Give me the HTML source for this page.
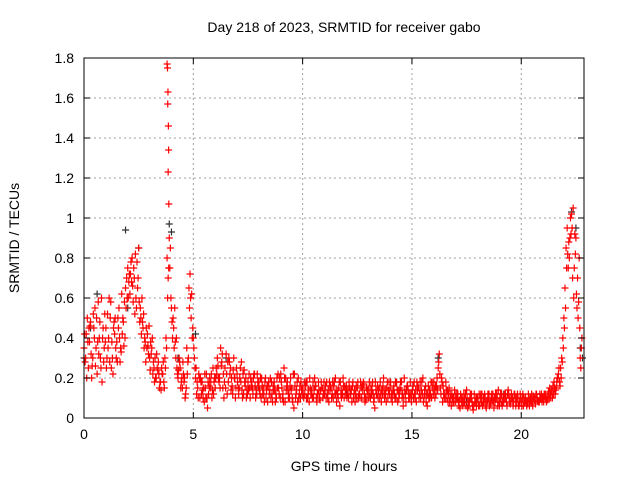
<!DOCTYPE html>
<html><head><meta charset="utf-8"><style>
body{margin:0;background:#fff;}
svg{display:block;font-family:"Liberation Sans",sans-serif;}
</style></head><body>
<svg id="chart" width="640" height="480">
<rect width="640" height="480" fill="#fff"/>
<text x="344" y="32" font-size="14" text-anchor="middle">Day 218 of 2023, SRMTID for receiver gabo</text>
<text x="344" y="471" font-size="14" text-anchor="middle">GPS time / hours</text>
<text transform="translate(19,238) rotate(-90)" font-size="14" text-anchor="middle">SRMTID / TECUs</text>
<g id="grid"></g><g id="marks"></g><g id="axes"></g>
</svg>
<script>
const xTicks=[0,5,10,15,20];
const yTicks=[0,0.2,0.4,0.6,0.8,1,1.2,1.4,1.6,1.8];
const yTickLabels=["0","0.2","0.4","0.6","0.8","1","1.2","1.4","1.6","1.8"];
const redA=[0.35,0.42,0.25,0.48,0.30,0.55,0.22,0.40,0.60,0.28,
0.45,0.35,0.50,0.30,0.42,0.38,0.55,0.33,0.48,0.65,
0.75,0.62,0.80,0.70,0.55,0.85,0.50,0.45,0.38,0.42,
0.30,0.35,0.25,0.20,0.28,0.18,0.22,0.30,0.80,0.90,
0.55,0.45,0.30,0.20,0.25,0.15,0.20,0.35,0.65,0.50,
0.40,0.20,0.15,0.10,0.18,0.08,0.22,0.12,0.18,0.25,
0.15,0.30,0.20,0.28,0.10,0.32,0.18,0.25,0.12,0.20,
0.22,0.15,0.28,0.12,0.20,0.18,0.10,0.15,0.22,0.12,
0.18,0.10,0.15,0.20,0.08,0.14,0.12,0.18,0.10,0.15,
0.22,0.12,0.08,0.18,0.10,0.15,0.05,0.12,0.20,0.10,
0.15,0.12,0.18,0.08,0.14,0.10,0.16,0.12,0.09,0.15,
0.12,0.18,0.08,0.15,0.10,0.20,0.12,0.06,0.14,0.10,
0.16,0.10,0.12,0.18,0.08,0.15,0.12,0.10,0.17,0.09,
0.14,0.10,0.18,0.05,0.12,0.15,0.08,0.20,0.12,0.10,
0.15,0.08,0.12,0.18,0.10,0.14,0.06,0.12,0.16,0.10,
0.12,0.18,0.08,0.15,0.10,0.20,0.12,0.06,0.14,0.10,
0.18,0.12,0.25,0.15,0.08,0.12,0.10,0.15,0.06,0.10,
0.08,0.12,0.05,0.10,0.08,0.14,0.06,0.10,0.04,0.08,
0.10,0.06,0.12,0.08,0.05,0.10,0.07,0.12,0.08,0.10,
0.06,0.12,0.08,0.10,0.14,0.07,0.10,0.12,0.08,0.06,
0.08,0.06,0.10,0.07,0.09,0.08,0.10,0.12,0.08,0.10,
0.10,0.12,0.09,0.15,0.13,0.18,0.15,0.22,0.25,0.40,
0.65,0.95,0.80,1.02,0.60,0.90,0.50,0.30];
const redB=[0.28,0.50,0.38,0.20,0.45,0.35,0.58,0.30,0.40,0.52,
0.30,0.60,0.25,0.45,0.35,0.50,0.28,0.42,0.58,0.70,
0.68,0.78,0.58,0.82,0.65,0.48,0.60,0.35,0.45,0.32,
0.38,0.22,0.30,0.25,0.15,0.25,0.18,0.40,0.70,0.85,
0.40,0.55,0.25,0.30,0.18,0.22,0.12,0.28,0.72,0.40,
0.30,0.12,0.22,0.18,0.10,0.15,0.05,0.20,0.10,0.18,
0.25,0.20,0.35,0.15,0.25,0.12,0.28,0.20,0.30,0.15,
0.15,0.25,0.10,0.18,0.14,0.22,0.16,0.20,0.10,0.18,
0.12,0.16,0.08,0.14,0.18,0.10,0.16,0.08,0.15,0.20,
0.15,0.25,0.14,0.10,0.20,0.08,0.16,0.18,0.12,0.14,
0.10,0.18,0.12,0.15,0.10,0.20,0.08,0.14,0.18,0.12,
0.16,0.10,0.14,0.12,0.18,0.08,0.15,0.12,0.20,0.14,
0.12,0.15,0.08,0.12,0.16,0.10,0.18,0.14,0.08,0.12,
0.18,0.12,0.08,0.14,0.10,0.18,0.12,0.10,0.15,0.18,
0.10,0.14,0.18,0.08,0.15,0.10,0.20,0.14,0.10,0.12,
0.16,0.10,0.14,0.12,0.18,0.10,0.08,0.16,0.12,0.15,
0.10,0.20,0.32,0.20,0.12,0.18,0.08,0.12,0.10,0.14,
0.12,0.06,0.10,0.08,0.12,0.05,0.10,0.08,0.12,0.06,
0.06,0.12,0.08,0.10,0.09,0.06,0.12,0.05,0.10,0.14,
0.12,0.08,0.10,0.06,0.10,0.12,0.08,0.06,0.10,0.12,
0.10,0.08,0.06,0.10,0.08,0.11,0.07,0.09,0.12,0.08,
0.12,0.08,0.13,0.10,0.16,0.12,0.20,0.18,0.30,0.50,
0.85,0.75,1.00,0.70,0.92,0.55,0.80,0.35];
const redC=[0.42,0.20,0.45,0.32,0.52,0.26,0.38,0.48,0.18,0.35,
0.25,0.40,0.58,0.22,0.50,0.28,0.40,0.62,0.36,0.55,
0.60,0.72,0.66,0.52,0.78,0.58,0.42,0.52,0.28,0.36,
0.24,0.40,0.18,0.32,0.22,0.14,0.28,0.25,0.60,0.75,
0.48,0.35,0.40,0.24,0.15,0.28,0.10,0.22,0.55,0.62,
0.35,0.25,0.10,0.20,0.14,0.22,0.10,0.16,0.22,0.12,
0.20,0.26,0.15,0.32,0.18,0.22,0.30,0.14,0.24,0.10,
0.18,0.20,0.14,0.24,0.10,0.14,0.20,0.12,0.16,0.22,
0.14,0.20,0.12,0.10,0.16,0.20,0.08,0.14,0.20,0.12,
0.18,0.08,0.20,0.14,0.16,0.10,0.22,0.14,0.10,0.18,
0.12,0.16,0.10,0.20,0.12,0.14,0.10,0.18,0.14,0.10,
0.14,0.12,0.18,0.10,0.16,0.12,0.10,0.18,0.12,0.16,
0.10,0.18,0.14,0.10,0.12,0.18,0.10,0.16,0.12,0.15,
0.10,0.16,0.12,0.18,0.16,0.10,0.14,0.12,0.08,0.14,
0.18,0.12,0.10,0.14,0.12,0.18,0.10,0.08,0.14,0.18,
0.14,0.12,0.18,0.10,0.14,0.08,0.16,0.12,0.10,0.18,
0.14,0.16,0.28,0.12,0.16,0.10,0.14,0.08,0.12,0.08,
0.10,0.08,0.12,0.06,0.10,0.10,0.08,0.12,0.06,0.10,
0.08,0.10,0.06,0.12,0.08,0.12,0.10,0.08,0.12,0.06,
0.10,0.06,0.12,0.08,0.12,0.10,0.06,0.10,0.12,0.08,
0.06,0.10,0.08,0.12,0.10,0.06,0.09,0.10,0.08,0.12,
0.08,0.10,0.12,0.12,0.10,0.15,0.18,0.25,0.20,0.35,
0.55,0.82,0.90,0.95,0.75,0.62,0.58,0.25];
const redD=[0.30,0.38,0.46,0.26,0.40,0.50,0.32,0.25,0.45,0.38,
0.52,0.28,0.38,0.48,0.30,0.45,0.35,0.50,0.40,0.60,
0.72,0.68,0.75,0.60,0.70,0.55,0.48,0.40,0.35,0.46,
0.32,0.28,0.20,0.24,0.18,0.22,0.15,0.35,0.75,0.60,
0.50,0.38,0.22,0.28,0.20,0.18,0.15,0.30,0.60,0.45,
0.25,0.18,0.20,0.12,0.15,0.10,0.18,0.15,0.14,0.20,
0.22,0.18,0.26,0.22,0.15,0.28,0.22,0.16,0.20,0.25,
0.12,0.18,0.22,0.16,0.12,0.15,0.18,0.22,0.14,0.16,
0.20,0.12,0.18,0.16,0.12,0.18,0.14,0.12,0.22,0.10,
0.10,0.20,0.16,0.12,0.14,0.22,0.10,0.08,0.16,0.12,
0.18,0.10,0.14,0.12,0.18,0.16,0.12,0.10,0.15,0.18,
0.10,0.14,0.16,0.18,0.12,0.14,0.18,0.10,0.16,0.12,
0.14,0.12,0.16,0.14,0.10,0.12,0.15,0.18,0.10,0.14,
0.12,0.14,0.10,0.12,0.14,0.12,0.16,0.14,0.18,0.12,
0.12,0.16,0.10,0.14,0.18,0.12,0.14,0.16,0.12,0.08,
0.10,0.14,0.16,0.18,0.12,0.14,0.12,0.10,0.18,0.12,
0.16,0.14,0.22,0.18,0.10,0.14,0.12,0.10,0.08,0.12,
0.10,0.09,0.08,0.12,0.06,0.08,0.12,0.06,0.08,0.10,
0.12,0.08,0.10,0.06,0.12,0.08,0.09,0.10,0.12,0.08,
0.08,0.10,0.12,0.12,0.08,0.10,0.12,0.10,0.06,0.10,
0.12,0.09,0.08,0.06,0.12,0.10,0.12,0.08,0.10,0.10,
0.11,0.09,0.10,0.14,0.12,0.14,0.20,0.16,0.28,0.45,
0.75,0.88,0.92,1.05,0.82,0.70,0.45,0.40];
const spikeTimes=[3.8,3.82,3.84,3.83,3.86,3.87,3.85,3.88];
const spikeValues=[1.77,1.75,1.63,1.57,1.46,1.34,1.23,1.07];
const darkTimes=[0,0.3,0.6,1.9,2.0,2.5,3.9,4.0,4.3,5.1,6.5,8,12,16.2,17.5,19.2,22.3,22.5,22.7,22.8];
const darkValues=[0.30,0.45,0.62,0.94,0.55,0.85,0.97,0.93,0.30,0.42,0.30,0.15,0.12,0.30,0.08,0.12,1.03,0.95,0.35,0.30];
const NS="http://www.w3.org/2000/svg";
const L=84,R=584,T=58,B=418,XMAX=22.87,YMAX=1.8;
const sx=v=>L+v/XMAX*(R-L), sy=v=>B-v/YMAX*(B-T);
function mk(tag,attrs,parent){const e=document.createElementNS(NS,tag);for(const k in attrs)e.setAttribute(k,attrs[k]);parent.appendChild(e);return e;}
const grid=document.getElementById('grid'),marks=document.getElementById('marks'),axes=document.getElementById('axes');
xTicks.forEach(t=>{
 const x=sx(t);
 if(t>0){const g=mk('line',{x1:x,x2:x,y1:T,y2:B,stroke:'#a0a0a0','stroke-dasharray':'2,3','stroke-width':1},grid);
 
 }
 const a=mk('line',{x1:x,x2:x,y1:B,y2:B-6,stroke:'#000'},axes);
 const b=mk('line',{x1:x,x2:x,y1:T,y2:T+6,stroke:'#000'},axes);
 const tx=mk('text',{x:x,y:B+21,'font-size':14,'text-anchor':'middle'},axes);tx.textContent=t;
 
 
});
yTicks.forEach((t,i)=>{
 const y=sy(t);
 if(t>0&&t<1.8){const g=mk('line',{x1:L,x2:R,y1:y,y2:y,stroke:'#a0a0a0','stroke-dasharray':'2,3','stroke-width':1},grid);
 
 }
 const a=mk('line',{x1:L,x2:L+6,y1:y,y2:y,stroke:'#000'},axes);
 const b=mk('line',{x1:R,x2:R-6,y1:y,y2:y,stroke:'#000'},axes);
 const tx=mk('text',{x:L-10,y:y+5,'font-size':14,'text-anchor':'end'},axes);tx.textContent=yTickLabels[i];
 
 
});
const frame=mk('rect',{x:L,y:T,width:R-L,height:B-T,fill:'none',stroke:'#000'},axes);


function cross(t,v,col,name){
 const x=sx(t),y=sy(v);
 const p=mk('path',{d:`M${x-3.5},${y}h7M${x},${y-3.5}v7`,stroke:col,'stroke-width':1.2,fill:'none'},marks);
 
 
}
darkTimes.forEach((t,i)=>cross(t,darkValues[i],'#303030','dark-point'));
redA.forEach((v,i)=>cross(i*0.1,v,'#ff0000','red-point'));
redB.forEach((v,i)=>cross(i*0.1+0.05,v,'#ff0000','red-point'));
redC.forEach((v,i)=>cross(i*0.1+0.025,v,'#ff0000','red-point'));
redD.forEach((v,i)=>cross(i*0.1+0.075,v,'#ff0000','red-point'));
spikeTimes.forEach((t,i)=>cross(t,spikeValues[i],'#ff0000','spike-point'));
</script>
</body></html>
